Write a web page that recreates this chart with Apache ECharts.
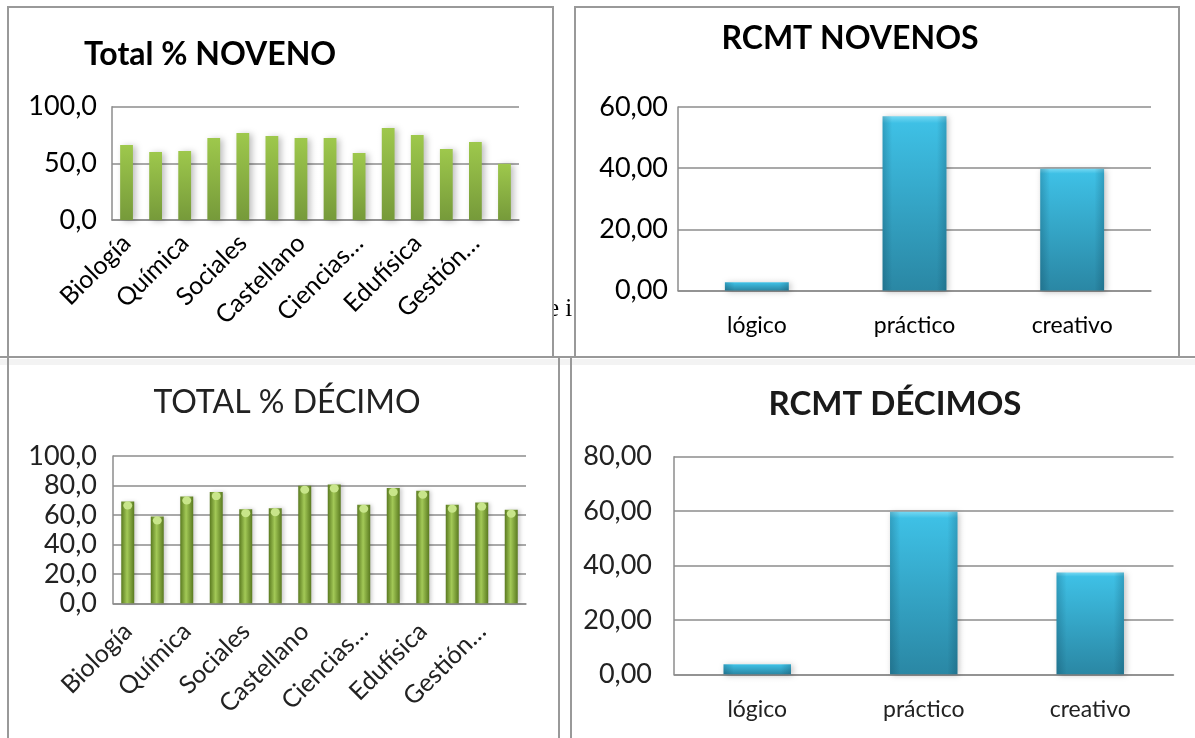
<!DOCTYPE html>
<html>
<head>
<meta charset="utf-8">
<script src="https://cdn.jsdelivr.net/npm/echarts@6/dist/echarts.min.js"></script>
<style>
  html, body { margin: 0; padding: 0; background: #ffffff; }
  #chart { width: 1195px; height: 738px; }
</style>
</head>
<body>
<div id="chart"></div>
<script>
// Subjects (every second label is shown on the axis)
const materias = ['Biología', 'Física', 'Química', 'Matemáticas', 'Sociales', 'Inglés', 'Castellano',
  'Filosofía', 'Ciencias…', 'Artística', 'Edufísica', 'Ética', 'Gestión…', 'Tecnología'];

// Total % per subject
const totalNoveno = [66.2, 60.0, 60.9, 72.4, 76.8, 74.1, 72.4, 72.4, 59.1, 81.2, 75.0, 62.6, 68.8, 49.6];
const totalDecimo = [69.1, 58.9, 72.5, 75.5, 63.9, 64.6, 79.8, 80.7, 66.9, 78.2, 76.4, 66.9, 68.4, 63.5];

// RCMT thinking styles
const estilos = ['lógico', 'práctico', 'creativo'];
const rcmtNovenos = [2.7, 57.0, 39.8];
const rcmtDecimos = [3.7, 59.8, 37.4];

// Axis ranges
const ejeTotalNoveno = { max: 100, interval: 50 };
const ejeTotalDecimo = { max: 100, interval: 20 };
const ejeRcmtNovenos = { max: 60, interval: 20 };
const ejeRcmtDecimos = { max: 80, interval: 20 };

const FONT = 'Lato';
const comma = d => v => v.toFixed(d).replace('.', ',');

const gridLine = { show: true, lineStyle: { color: '#8c8c8c', width: 1.5 } };
const axisLineY = { show: true, lineStyle: { color: '#8c8c8c', width: 1.5 } };

function yAxis(idx, cfg, dec, margin, color) {
  return {
    type: 'value', gridIndex: idx, min: 0, max: cfg.max, interval: cfg.interval,
    axisLine: axisLineY, axisTick: { show: false }, splitLine: gridLine,
    axisLabel: { formatter: comma(dec), fontFamily: FONT, fontSize: 27, color: color, margin: margin }
  };
}

function xAxisRot(idx, color, margin) {
  return {
    type: 'category', gridIndex: idx, data: materias,
    axisLine: { lineStyle: { color: '#8c8c8c', width: 1.5 } }, axisTick: { show: false },
    axisLabel: { interval: 1, rotate: 45, fontFamily: FONT, fontSize: 25, color: color, margin: margin }
  };
}

function xAxisCat(idx, color) {
  return {
    type: 'category', gridIndex: idx, data: estilos,
    axisLine: { lineStyle: { color: '#8c8c8c', width: 1.5 } }, axisTick: { show: false },
    axisLabel: { fontFamily: FONT, fontSize: 23, color: color, margin: 24 }
  };
}

const blueFill = {
  type: 'linear', x: 0, y: 0, x2: 0, y2: 1,
  colorStops: [
    { offset: 0, color: '#74d8f3' }, { offset: 0.04, color: '#3ec0e5' },
    { offset: 1, color: '#2a87a4' }
  ]
};
const blueEdges = {
  type: 'linear', x: 0, y: 0, x2: 1, y2: 0,
  colorStops: [
    { offset: 0, color: 'rgba(0,40,60,0.22)' }, { offset: 0.15, color: 'rgba(0,40,60,0)' },
    { offset: 0.85, color: 'rgba(0,40,60,0)' }, { offset: 1, color: 'rgba(0,40,60,0.22)' }
  ]
};

function rcmtSeries(idx, data) {
  return [
    {
      type: 'bar', xAxisIndex: idx, yAxisIndex: idx, data: data, barWidth: '40.5%',
      itemStyle: { color: blueFill, shadowBlur: 6, shadowColor: 'rgba(0,0,0,0.25)', shadowOffsetX: 2, shadowOffsetY: 1 }
    },
    {
      type: 'bar', xAxisIndex: idx, yAxisIndex: idx, data: data, barWidth: '40.5%', barGap: '-100%',
      itemStyle: { color: blueEdges }, silent: true
    }
  ];
}

const chart = echarts.init(document.getElementById('chart'), null, { renderer: 'canvas' });

const frame = { fill: 'none', stroke: '#999999', lineWidth: 2 };

chart.setOption({
  animation: false,
  backgroundColor: '#ffffff',
  graphic: [
    // stray text peeking between the panels
    { type: 'text', left: 548, top: 297,
      style: { text: 'e i', fontFamily: 'Liberation Serif', fontSize: 25, fill: '#000' } },
    { type: 'rect', shape: { x: 520, y: 290, width: 32, height: 40 }, style: { fill: '#ffffff' } },
    // soft band under the upper panels
    { type: 'rect', shape: { x: 0, y: 359, width: 1195, height: 6 }, style: { fill: '#f3f3f3' } },
    // panel frames
    { type: 'rect', shape: { x: 8, y: 7, width: 545, height: 350 }, style: frame },
    { type: 'rect', shape: { x: 575, y: 7, width: 604, height: 350 }, style: frame },
    { type: 'rect', shape: { x: 0, y: 357, width: 1195, height: 0 }, style: frame },
    { type: 'rect', shape: { x: 8, y: 357, width: 551, height: 395 }, style: frame },
    { type: 'rect', shape: { x: 571, y: 357, width: 640, height: 395 }, style: frame }
  ],
  title: [
    { text: 'Total % NOVENO', left: 79, top: 34,
      textStyle: { fontFamily: FONT, fontWeight: 'bold', fontSize: 32, color: '#000' } },
    { text: 'RCMT NOVENOS', left: 845, top: 18, textAlign: 'center',
      textStyle: { fontFamily: FONT, fontWeight: 'bold', fontSize: 32, color: '#000' } },
    { text: 'TOTAL % DÉCIMO', left: 282, top: 382, textAlign: 'center',
      textStyle: { fontFamily: FONT, fontWeight: 'normal', fontSize: 32, color: '#222' } },
    { text: 'RCMT DÉCIMOS', left: 890, top: 383, textAlign: 'center',
      textStyle: { fontFamily: FONT, fontWeight: 'bold', fontSize: 33, color: '#1a1a1a' } }
  ],
  grid: [
    { left: 112, top: 106.7, width: 407, height: 113.3 },
    { left: 678, top: 107, width: 473, height: 183.5 },
    { left: 113, top: 456, width: 413, height: 147.3 },
    { left: 674, top: 456.7, width: 499.5, height: 217.6 }
  ],
  xAxis: [
    xAxisRot(0, '#000', 19),
    xAxisCat(1, '#000'),
    xAxisRot(2, '#222', 24),
    xAxisCat(3, '#222')
  ],
  yAxis: [
    yAxis(0, ejeTotalNoveno, 1, 15, '#000'),
    yAxis(1, ejeRcmtNovenos, 2, 10, '#000'),
    yAxis(2, ejeTotalDecimo, 1, 16, '#222'),
    yAxis(3, ejeRcmtDecimos, 2, 22, '#222')
  ],
  series: [
    {
      type: 'bar', xAxisIndex: 0, yAxisIndex: 0, data: totalNoveno, barWidth: '44%',
      itemStyle: {
        color: { type: 'linear', x: 0, y: 0, x2: 0, y2: 1,
          colorStops: [{ offset: 0, color: '#9ec84c' }, { offset: 1, color: '#769a3a' }] },
        shadowBlur: 6, shadowColor: 'rgba(0,0,0,0.25)', shadowOffsetX: 3, shadowOffsetY: 1
      }
    },
    ...rcmtSeries(1, rcmtNovenos),
    {
      type: 'bar', xAxisIndex: 2, yAxisIndex: 2, data: totalDecimo, barWidth: '44%',
      itemStyle: {
        color: { type: 'linear', x: 0, y: 0, x2: 1, y2: 0,
          colorStops: [{ offset: 0, color: '#5a7a20' }, { offset: 0.45, color: '#a3c957' },
                       { offset: 1, color: '#5a7a20' }] },
        shadowBlur: 4, shadowColor: 'rgba(0,0,0,0.2)', shadowOffsetX: 2
      }
    },
    {
      type: 'pictorialBar', xAxisIndex: 2, yAxisIndex: 2, data: totalDecimo,
      symbol: 'circle', symbolSize: ['44%', 8], symbolPosition: 'end', symbolOffset: [0, 0],
      itemStyle: { color: '#c8e58a' }, z: 3, silent: true
    },
    ...rcmtSeries(3, rcmtDecimos)
  ]
});
</script>
</body>
</html>
